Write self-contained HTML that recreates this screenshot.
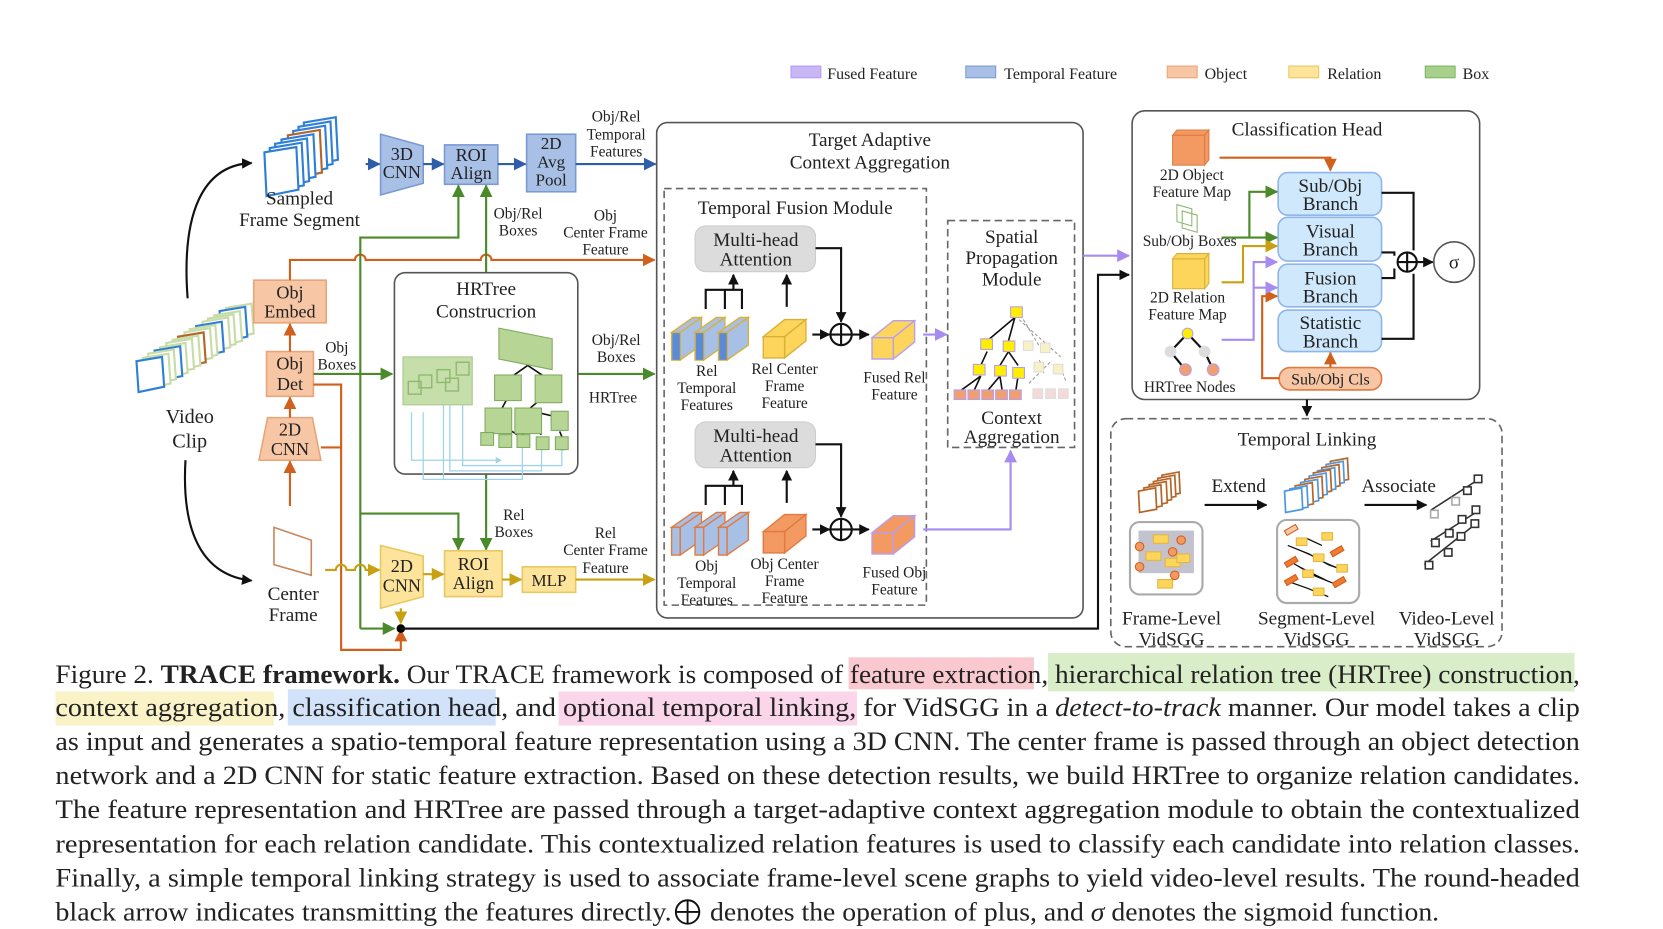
<!DOCTYPE html>
<html><head><meta charset="utf-8"><style>
html,body{margin:0;padding:0;background:#fff;}
svg{display:block;}
text{font-family:"Liberation Serif",serif;fill:#222;}
</style></head><body>
<svg width="1663" height="929" viewBox="0 0 1560 872" preserveAspectRatio="none" xmlns="http://www.w3.org/2000/svg">
<defs>
<marker id="aK" markerWidth="10" markerHeight="10" refX="9" refY="5" orient="auto" markerUnits="userSpaceOnUse"><path d="M0,0 L10,5 L0,10z" fill="#111"/></marker>
<marker id="aB" markerWidth="12" markerHeight="12" refX="11" refY="6" orient="auto" markerUnits="userSpaceOnUse"><path d="M0,0 L12,6 L0,12z" fill="#2f5ea8"/></marker>
<marker id="aO" markerWidth="12" markerHeight="12" refX="11" refY="6" orient="auto" markerUnits="userSpaceOnUse"><path d="M0,0 L12,6 L0,12z" fill="#d0601c"/></marker>
<marker id="aG" markerWidth="12" markerHeight="12" refX="11" refY="6" orient="auto" markerUnits="userSpaceOnUse"><path d="M0,0 L12,6 L0,12z" fill="#4a8a2a"/></marker>
<marker id="aY" markerWidth="12" markerHeight="12" refX="11" refY="6" orient="auto" markerUnits="userSpaceOnUse"><path d="M0,0 L12,6 L0,12z" fill="#c9a011"/></marker>
<marker id="aP" markerWidth="12" markerHeight="12" refX="11" refY="6" orient="auto" markerUnits="userSpaceOnUse"><path d="M0,0 L12,6 L0,12z" fill="#a78bf0"/></marker>
<marker id="aL" markerWidth="6" markerHeight="6" refX="5" refY="3" orient="auto" markerUnits="userSpaceOnUse"><path d="M0,0 L6,3 L0,6z" fill="#9fd3ea"/></marker>
<polygon id="fr" points="0,4 24,0 26,28 2,33" fill="#fff" stroke-width="2"/>
<polygon id="fr2" points="0,5 30,0 32,40 2,46" fill="#fff" stroke-width="2"/>
<polygon id="fr3" points="0,3 16,0 17,20 1,23" fill="#fff" stroke-width="1.6"/>
<g id="cub"><polygon points="0,20 20,4 40,4 20,20"/><polygon points="20,20 40,4 40,24 20,40"/><rect x="0" y="20" width="20" height="20"/></g>
<g id="cubs"><polygon points="0,14 20,0 28,0 8,14"/><polygon points="8,14 28,0 28,26 8,40"/><rect x="0" y="14" width="8" height="26"/></g>
</defs>

<g font-size="15">
<rect x="742" y="62" width="28" height="11" fill="#c9b6f5" stroke="#b39ef0"/><text x="776" y="74">Fused Feature</text>
<rect x="906" y="62" width="28" height="11" fill="#a9c0e6" stroke="#7a9ad3"/><text x="942" y="74">Temporal Feature</text>
<rect x="1095" y="62" width="28" height="11" fill="#f7c6a5" stroke="#e8a57a"/><text x="1130" y="74">Object</text>
<rect x="1209" y="62" width="28" height="11" fill="#fde49a" stroke="#e8c860"/><text x="1245" y="74">Relation</text>
<rect x="1337" y="62" width="28" height="11" fill="#a8d08d" stroke="#7fb565"/><text x="1372" y="74">Box</text>
</g>

<g>
<use href="#fr" x="212" y="285" stroke="#c8dca8"/><use href="#fr" x="206" y="288" stroke="#2e7fd6"/><use href="#fr" x="201" y="292" stroke="#c8dca8"/><use href="#fr" x="195" y="295" stroke="#c8dca8"/><use href="#fr" x="190" y="298" stroke="#c8dca8"/><use href="#fr" x="184" y="302" stroke="#2e7fd6"/><use href="#fr" x="178" y="305" stroke="#c8dca8"/><use href="#fr" x="173" y="308" stroke="#c8dca8"/><use href="#fr" x="167" y="312" stroke="#b5652a"/><use href="#fr" x="162" y="315" stroke="#c8dca8"/><use href="#fr" x="156" y="318" stroke="#c8dca8"/><use href="#fr" x="150" y="322" stroke="#c8dca8"/><use href="#fr" x="145" y="325" stroke="#2e7fd6"/><use href="#fr" x="139" y="328" stroke="#c8dca8"/><use href="#fr" x="134" y="332" stroke="#c8dca8"/><use href="#fr" x="128" y="335" stroke="#2e7fd6"/>
</g>
<text x="178" y="397" font-size="19" text-anchor="middle">Video</text>
<text x="178" y="420" font-size="19" text-anchor="middle">Clip</text>
<path d="M176,280 C170,200 190,155 236,153" fill="none" stroke="#111" stroke-width="2" marker-end="url(#aK)"/>
<path d="M174,432 C170,500 190,540 236,545" fill="none" stroke="#111" stroke-width="2" marker-end="url(#aK)"/>

<use href="#fr2" x="285" y="110" stroke="#2e7fd6"/><use href="#fr2" x="280" y="114" stroke="#2e7fd6"/><use href="#fr2" x="275" y="118" stroke="#2e7fd6"/><use href="#fr2" x="270" y="122" stroke="#b5652a"/><use href="#fr2" x="264" y="126" stroke="#2e7fd6"/><use href="#fr2" x="258" y="130" stroke="#2e7fd6"/><use href="#fr2" x="253" y="134" stroke="#2e7fd6"/><use href="#fr2" x="248" y="138" stroke="#2e7fd6"/>
<text x="281" y="192" font-size="18" text-anchor="middle">Sampled</text>
<text x="281" y="212" font-size="18" text-anchor="middle">Frame Segment</text>

<polygon points="357,126 397,137 397,172 357,183" fill="#a9c0e6" stroke="#7a9ad3" stroke-width="1.5"/>
<text x="377" y="150" font-size="17" text-anchor="middle">3D</text><text x="377" y="167" font-size="17" text-anchor="middle">CNN</text>
<rect x="417" y="136" width="50" height="37" fill="#a9c0e6" stroke="#7a9ad3" stroke-width="1.5"/>
<text x="442" y="151" font-size="17" text-anchor="middle">ROI</text><text x="442" y="168" font-size="17" text-anchor="middle">Align</text>
<rect x="494" y="126" width="46" height="54" fill="#a9c0e6" stroke="#7a9ad3" stroke-width="1.5"/>
<text x="517" y="140" font-size="16" text-anchor="middle">2D</text><text x="517" y="157" font-size="16" text-anchor="middle">Avg</text><text x="517" y="174" font-size="16" text-anchor="middle">Pool</text>
<g stroke="#2f5ea8" stroke-width="2" fill="none">
<line x1="343" y1="154" x2="356" y2="154" marker-end="url(#aB)"/>
<line x1="397" y1="154" x2="416" y2="154" marker-end="url(#aB)"/>
<line x1="467" y1="154" x2="493" y2="154" marker-end="url(#aB)"/>
<line x1="540" y1="154" x2="615" y2="154" marker-end="url(#aB)"/>
</g>
<g font-size="14.5" text-anchor="middle">
<text x="578" y="114">Obj/Rel</text><text x="578" y="131">Temporal</text><text x="578" y="147">Features</text>
<text x="486" y="205">Obj/Rel</text><text x="486" y="221">Boxes</text>
<text x="568" y="207">Obj</text><text x="568" y="223">Center Frame</text><text x="568" y="239">Feature</text>
<text x="578" y="324">Obj/Rel</text><text x="578" y="340">Boxes</text>
<text x="575" y="378">HRTree</text>
<text x="316" y="331">Obj</text><text x="316" y="347">Boxes</text>
<text x="482" y="488">Rel</text><text x="482" y="504">Boxes</text>
<text x="568" y="505">Rel</text><text x="568" y="521">Center Frame</text><text x="568" y="538">Feature</text>
</g>

<rect x="238" y="263" width="68" height="40" fill="#f7c6a5" stroke="#e8a57a" stroke-width="1.5"/>
<text x="272" y="280" font-size="17" text-anchor="middle">Obj</text><text x="272" y="298" font-size="17" text-anchor="middle">Embed</text>
<rect x="250" y="330" width="44" height="42" fill="#f7c6a5" stroke="#e8a57a" stroke-width="1.5"/>
<text x="272" y="347" font-size="17" text-anchor="middle">Obj</text><text x="272" y="366" font-size="17" text-anchor="middle">Det</text>
<polygon points="251,392 293,392 301,432 243,432" fill="#f7c6a5" stroke="#e8a57a" stroke-width="1.5"/>
<text x="272" y="409" font-size="17" text-anchor="middle">2D</text><text x="272" y="427" font-size="17" text-anchor="middle">CNN</text>
<g stroke="#d0601c" stroke-width="2" fill="none">
<line x1="272" y1="475" x2="272" y2="433" marker-end="url(#aO)"/>
<line x1="272" y1="392" x2="272" y2="373" marker-end="url(#aO)"/>
<line x1="272" y1="330" x2="272" y2="304" marker-end="url(#aO)"/>
<path d="M272,263 V244 H333 a5,5 0 0 1 10,0 H451 a5,5 0 0 1 10,0 H614" marker-end="url(#aO)"/>
<path d="M294,361 H320 V610 H376 V591" marker-end="url(#aO)"/>
<line x1="301" y1="420" x2="320" y2="420"/>
</g>

<g stroke="#4a8a2a" stroke-width="2" fill="none">
<line x1="294" y1="351" x2="368" y2="351" marker-end="url(#aG)"/>
<path d="M338,590 V223 H430 V174" marker-end="url(#aG)"/>
<path d="M456,256 V174" marker-end="url(#aG)"/>
<path d="M338,482 H430 V516" marker-end="url(#aG)"/>
<path d="M456,445 V516" marker-end="url(#aG)"/>
<path d="M338,590 H370" marker-end="url(#aG)"/>
<line x1="542" y1="351" x2="614" y2="351" marker-end="url(#aG)"/>
</g>

<rect x="370" y="256" width="172" height="189" rx="10" fill="#fff" stroke="#555" stroke-width="1.5"/>
<text x="456" y="277" font-size="18" text-anchor="middle">HRTree</text>
<text x="456" y="298" font-size="18" text-anchor="middle">Construcrion</text>
<g stroke="#9fd3ea" stroke-width="1.2" fill="none">
<path d="M386,387 V432 H470" marker-end="url(#aL)"/>
<path d="M397,387 V450 H490 V415" marker-end="url(#aL)"/>
<path d="M416,378 V450"/><path d="M422,380 V442 H508 V415" marker-end="url(#aL)"/>
<path d="M434,370 V437 H527 V418" marker-end="url(#aL)"/>
</g>
<rect x="378" y="335" width="65" height="45" fill="#c5deaa" stroke="#a7c98a"/>
<g fill="none" stroke="#8fb870" stroke-width="1.3"><rect x="383" y="358" width="12" height="12"/><rect x="393" y="352" width="12" height="12"/><rect x="410" y="347" width="12" height="12"/><rect x="418" y="355" width="12" height="12"/><rect x="428" y="340" width="12" height="12"/></g>
<g stroke="#111" stroke-width="1.5"><path d="M495,343 L478,355 M495,343 L513,355 M478,370 L470,385 M513,370 L495,385 M495,385 L525,392 M470,398 L458,408 M470,398 L485,408 M495,398 L490,408 M495,398 L508,408 M525,405 L528,412"/></g>
<g fill="#b7d595" stroke="#7fab5f" stroke-width="1">
<polygon points="468,308 518,318 518,347 468,337"/>
<rect x="464" y="352" width="25" height="24"/><rect x="502" y="352" width="25" height="26"/>
<rect x="455" y="383" width="25" height="24"/><rect x="483" y="383" width="25" height="24"/><rect x="517" y="386" width="16" height="18"/>
<rect x="451" y="406" width="12" height="12"/><rect x="468" y="408" width="12" height="12"/><rect x="485" y="408" width="12" height="12"/><rect x="503" y="410" width="12" height="12"/><rect x="521" y="410" width="12" height="12"/>
</g>

<polygon points="257,495 292,507 292,540 257,530" fill="#fff" stroke="#c8865a" stroke-width="1.5"/>
<text x="275" y="563" font-size="18" text-anchor="middle">Center</text>
<text x="275" y="583" font-size="18" text-anchor="middle">Frame</text>
<path d="M305,535 H315 a5,5 0 0 1 10,0 H333 a5,5 0 0 1 10,0 H356" stroke="#c9a011" stroke-width="2" fill="none" marker-end="url(#aY)"/>
<polygon points="357,512 397,522 397,560 357,571" fill="#fde49a" stroke="#e8c860" stroke-width="1.5"/>
<text x="377" y="537" font-size="17" text-anchor="middle">2D</text><text x="377" y="555" font-size="17" text-anchor="middle">CNN</text>
<rect x="417" y="517" width="54" height="43" fill="#fde49a" stroke="#e8c860" stroke-width="1.5"/>
<text x="444" y="535" font-size="17" text-anchor="middle">ROI</text><text x="444" y="553" font-size="17" text-anchor="middle">Align</text>
<rect x="490" y="532" width="50" height="24" fill="#fde49a" stroke="#e8c860" stroke-width="1.5"/>
<text x="515" y="550" font-size="16" text-anchor="middle">MLP</text>
<g stroke="#c9a011" stroke-width="2" fill="none">
<line x1="397" y1="539" x2="416" y2="539" marker-end="url(#aY)"/>
<line x1="471" y1="544" x2="489" y2="544" marker-end="url(#aY)"/>
<line x1="540" y1="544" x2="614" y2="544" marker-end="url(#aY)"/>
<line x1="376" y1="571" x2="376" y2="585" marker-end="url(#aY)"/>
</g>
<circle cx="376" cy="590" r="4" fill="#000"/>
<path d="M376,590 H1030 V258 H1059" stroke="#111" stroke-width="2" fill="none" marker-end="url(#aK)"/>

<rect x="616" y="115" width="400" height="465" rx="10" fill="#fff" stroke="#555" stroke-width="1.5"/>
<path d="M376,590 H1030" stroke="#111" stroke-width="2"/>
<text x="816" y="137" font-size="18" text-anchor="middle">Target Adaptive</text>
<text x="816" y="158" font-size="18" text-anchor="middle">Context Aggregation</text>
<rect x="623" y="177" width="246" height="391" fill="none" stroke="#666" stroke-width="1.5" stroke-dasharray="7,4"/>
<text x="746" y="201" font-size="18" text-anchor="middle">Temporal Fusion Module</text>
<rect x="652" y="212" width="113" height="43" rx="10" fill="#dcdcdc" stroke="#ccc"/>
<text x="709" y="231" font-size="18" text-anchor="middle">Multi-head</text><text x="709" y="249" font-size="18" text-anchor="middle">Attention</text>
<rect x="652" y="396" width="113" height="43" rx="10" fill="#dcdcdc" stroke="#ccc"/>
<text x="709" y="415" font-size="18" text-anchor="middle">Multi-head</text><text x="709" y="433" font-size="18" text-anchor="middle">Attention</text>
<g stroke="#111" stroke-width="2" fill="none">
<path d="M662,290 V272 H696 V290 M680,272 V290 M688,272 V258"/><path d="M688,262 V258" marker-end="url(#aK)"/>
<path d="M738,288 V258" marker-end="url(#aK)"/>
<path d="M765,233 H789 V302" marker-end="url(#aK)"/>
<path d="M762,314 H778" marker-end="url(#aK)"/><path d="M799,314 H815" marker-end="url(#aK)"/>
<circle cx="789" cy="314" r="10"/><path d="M779,314 H799 M789,304 V324"/>
<path d="M662,474 V456 H696 V474 M680,456 V474 M688,456 V442"/><path d="M688,446 V442" marker-end="url(#aK)"/>
<path d="M738,472 V442" marker-end="url(#aK)"/>
<path d="M765,417 H789 V485" marker-end="url(#aK)"/>
<path d="M762,497 H778" marker-end="url(#aK)"/><path d="M799,497 H815" marker-end="url(#aK)"/>
<circle cx="789" cy="497" r="10"/><path d="M779,497 H799 M789,487 V507"/>
</g>
<g fill="#a9c0e6" stroke="#d7b13b" stroke-width="1.3"><use href="#cubs" x="630" y="298"/><use href="#cubs" x="652" y="298"/><use href="#cubs" x="674" y="298"/></g>
<g fill="#5b8ad6" stroke="none"><rect x="630.7" y="312.7" width="7" height="25"/><rect x="652.7" y="312.7" width="7" height="25"/><rect x="674.7" y="312.7" width="7" height="25"/></g>
<g fill="#fdd55a" stroke="#d7b13b" stroke-width="1.3"><use href="#cub" x="716" y="296"/></g>
<g fill="#fdd55a" stroke="#b79ef0" stroke-width="1.3"><use href="#cub" x="818" y="297"/></g>
<g fill="#a9c0e6" stroke="#e07a40" stroke-width="1.3"><use href="#cubs" x="630" y="481"/><use href="#cubs" x="652" y="481"/><use href="#cubs" x="674" y="481"/></g>
<g fill="#f39a62" stroke="#e07a40" stroke-width="1.3"><use href="#cub" x="716" y="479"/></g>
<g fill="#f39a62" stroke="#b79ef0" stroke-width="1.3"><use href="#cub" x="818" y="480"/></g>
<g font-size="14.5" text-anchor="middle">
<text x="663" y="353">Rel</text><text x="663" y="369">Temporal</text><text x="663" y="385">Features</text>
<text x="736" y="351">Rel Center</text><text x="736" y="367">Frame</text><text x="736" y="383">Feature</text>
<text x="839" y="359">Fused Rel</text><text x="839" y="375">Feature</text>
<text x="663" y="536">Obj</text><text x="663" y="552">Temporal</text><text x="663" y="568">Features</text>
<text x="736" y="534">Obj Center</text><text x="736" y="550">Frame</text><text x="736" y="566">Feature</text>
<text x="839" y="542">Fused Obj</text><text x="839" y="558">Feature</text>
</g>
<line x1="866" y1="314" x2="888" y2="314" stroke="#a78bf0" stroke-width="2" marker-end="url(#aP)"/>
<path d="M866,497 H948 V423" stroke="#a78bf0" stroke-width="2" fill="none" marker-end="url(#aP)"/>

<rect x="889" y="207" width="119" height="213" fill="none" stroke="#666" stroke-width="1.5" stroke-dasharray="7,4"/>
<text x="949" y="228" font-size="18" text-anchor="middle">Spatial</text>
<text x="949" y="248" font-size="18" text-anchor="middle">Propagation</text>
<text x="949" y="268" font-size="18" text-anchor="middle">Module</text>
<g stroke="#999" stroke-width="1" stroke-dasharray="3,2"><path d="M956,300 L995,335 M960,300 L975,325 M975,338 L980,352 M995,345 L1000,358 M985,340 L965,360"/></g>
<g fill="#f8f1c6" stroke="#ddd"><rect x="960" y="320" width="9" height="9"/><rect x="976" y="322" width="9" height="9"/><rect x="970" y="340" width="9" height="9"/><rect x="988" y="342" width="9" height="9"/></g>
<g fill="#f5dada" stroke="#ddd"><rect x="969" y="365" width="9" height="9"/><rect x="981" y="365" width="9" height="9"/><rect x="993" y="365" width="9" height="9"/></g>
<g stroke="#111" stroke-width="1.5"><path d="M952,298 L926,320 M952,298 L946,320 M926,330 L920,343 M946,330 L938,343 M946,330 L955,343 M920,353 L902,366 M920,353 L914,366 M938,353 L927,366 M938,353 L940,366 M955,353 L953,366"/></g>
<g fill="#ffee00" stroke="#b79ef0"><rect x="948" y="288" width="11" height="10"/><rect x="920" y="318" width="11" height="10"/><rect x="941" y="320" width="11" height="10"/><rect x="913" y="342" width="11" height="10"/><rect x="933" y="343" width="11" height="10"/><rect x="950" y="345" width="11" height="10"/></g>
<g fill="#f0a070" stroke="#b79ef0"><rect x="895" y="366" width="11" height="9"/><rect x="908" y="366" width="11" height="9"/><rect x="921" y="366" width="11" height="9"/><rect x="934" y="366" width="11" height="9"/><rect x="947" y="366" width="11" height="9"/></g>
<text x="949" y="398" font-size="18" text-anchor="middle">Context</text>
<text x="949" y="416" font-size="18" text-anchor="middle">Aggregation</text>

<rect x="1062" y="104" width="326" height="271" rx="12" fill="#fff" stroke="#555" stroke-width="1.5"/>
<text x="1226" y="127" font-size="18" text-anchor="middle">Classification Head</text>
<g fill="#f39a62" stroke="#e07a40"><polygon points="1100,127 1104,122 1134,122 1130,127"/><polygon points="1130,127 1134,122 1134,150 1130,155"/><rect x="1100" y="127" width="30" height="28"/></g>
<g fill="#fdd55a" stroke="#d7b13b"><polygon points="1100,243 1104,238 1134,238 1130,243"/><polygon points="1130,243 1134,238 1134,266 1130,271"/><rect x="1100" y="243" width="30" height="28"/></g>
<g fill="none" stroke="#8fb870"><polygon points="1104,192 1118,196 1118,212 1104,208"/><polygon points="1109,198 1123,202 1123,218 1109,214"/></g>
<g stroke="#111" stroke-width="2"><path d="M1114,313 L1098,330 M1114,313 L1130,330 M1098,330 L1112,347 M1130,330 L1138,347"/></g>
<circle cx="1114" cy="313" r="5" fill="#ffee00" stroke="#b79ef0"/>
<circle cx="1098" cy="330" r="5.5" fill="#ddd"/><circle cx="1130" cy="330" r="5.5" fill="#ddd"/>
<circle cx="1112" cy="347" r="5.5" fill="#f0a070" stroke="#b79ef0"/><circle cx="1138" cy="347" r="5.5" fill="#f0a070" stroke="#b79ef0"/>
<g font-size="14.5" text-anchor="middle">
<text x="1118" y="169">2D Object</text><text x="1118" y="185">Feature Map</text>
<text x="1116" y="231">Sub/Obj Boxes</text>
<text x="1114" y="284">2D Relation</text><text x="1114" y="300">Feature Map</text>
<text x="1116" y="368">HRTree Nodes</text>
</g>
<g fill="#cfe8fb" stroke="#8fb5ea" stroke-width="1.5">
<rect x="1199" y="162" width="97" height="40" rx="9"/><rect x="1199" y="204" width="97" height="41" rx="9"/><rect x="1199" y="248" width="97" height="40" rx="9"/><rect x="1199" y="291" width="97" height="39" rx="9"/>
</g>
<g font-size="18" text-anchor="middle">
<text x="1248" y="180">Sub/Obj</text><text x="1248" y="197">Branch</text>
<text x="1248" y="223">Visual</text><text x="1248" y="240">Branch</text>
<text x="1248" y="267">Fusion</text><text x="1248" y="284">Branch</text>
<text x="1248" y="309">Statistic</text><text x="1248" y="326">Branch</text>
</g>
<rect x="1200" y="345" width="96" height="21" rx="10" fill="#f7c6a5" stroke="#e07a40" stroke-width="1.5"/>
<text x="1248" y="361" font-size="15" text-anchor="middle">Sub/Obj Cls</text>
<g stroke="#d0601c" stroke-width="2" fill="none">
<path d="M1144,148 H1248 V160" marker-end="url(#aO)"/>
<path d="M1248,345 V331" marker-end="url(#aO)"/>
<path d="M1200,355 H1184 V278 H1198" marker-end="url(#aO)"/>
</g>
<g stroke="#4a8a2a" stroke-width="2" fill="none">
<path d="M1146,223 H1198" marker-end="url(#aG)"/><path d="M1172,223 V180 H1198" marker-end="url(#aG)"/>
</g>
<path d="M1146,265 H1166 V231 H1198" stroke="#c9a011" stroke-width="2" fill="none" marker-end="url(#aY)"/>
<g stroke="#a78bf0" stroke-width="2" fill="none">
<path d="M1146,319 H1176 V246 H1198" marker-end="url(#aP)"/><path d="M1176,270 H1198" marker-end="url(#aP)"/>
</g>
<g stroke="#111" stroke-width="2" fill="none">
<path d="M1296,181 H1326 V235"/><path d="M1296,318 H1326 V257"/>
<path d="M1296,237 H1308 V240"/><path d="M1296,261 H1308 V252"/>
<circle cx="1320" cy="246" r="9"/><path d="M1311,246 H1329 M1320,237 V255"/>
<path d="M1329,246 H1344" marker-end="url(#aK)"/>
<path d="M1226,375 V390" marker-end="url(#aK)"/>
</g>
<circle cx="1364" cy="246" r="19" fill="#fff" stroke="#555" stroke-width="1.5"/>
<text x="1364" y="252" font-size="18" text-anchor="middle">σ</text>
<line x1="1016" y1="240" x2="1059" y2="240" stroke="#a78bf0" stroke-width="2" marker-end="url(#aP)"/>

<rect x="1042" y="393" width="367" height="214" rx="14" fill="none" stroke="#666" stroke-width="1.5" stroke-dasharray="7,4"/>
<text x="1226" y="418" font-size="18" text-anchor="middle">Temporal Linking</text>
<g><use href="#fr3" x="1090" y="443" stroke="#b5652a"/><use href="#fr3" x="1086" y="446" stroke="#b5652a"/><use href="#fr3" x="1082" y="449" stroke="#b5652a"/><use href="#fr3" x="1078" y="452" stroke="#b5652a"/><use href="#fr3" x="1073" y="455" stroke="#b5652a"/><use href="#fr3" x="1068" y="458" stroke="#b5652a"/></g>
<g><use href="#fr3" x="1248" y="430" stroke="#b5652a"/><use href="#fr3" x="1244" y="433" stroke="#4f98e0"/><use href="#fr3" x="1240" y="436" stroke="#b5652a"/><use href="#fr3" x="1236" y="439" stroke="#4f98e0"/><use href="#fr3" x="1232" y="441" stroke="#b5652a"/><use href="#fr3" x="1228" y="444" stroke="#4f98e0"/><use href="#fr3" x="1224" y="447" stroke="#b5652a"/><use href="#fr3" x="1220" y="450" stroke="#4f98e0"/><use href="#fr3" x="1215" y="453" stroke="#b5652a"/><use href="#fr3" x="1210" y="456" stroke="#4f98e0"/><use href="#fr3" x="1205" y="458" stroke="#4f98e0"/></g>
<text x="1162" y="462" font-size="18" text-anchor="middle">Extend</text>
<text x="1312" y="462" font-size="18" text-anchor="middle">Associate</text>
<line x1="1130" y1="474" x2="1188" y2="474" stroke="#111" stroke-width="2" marker-end="url(#aK)"/>
<line x1="1280" y1="474" x2="1338" y2="474" stroke="#111" stroke-width="2" marker-end="url(#aK)"/>
<rect x="1060" y="490" width="68" height="68" rx="9" fill="#fff" stroke="#aaa" stroke-width="2"/>
<g fill="#aab" opacity="0.7"><rect x="1068" y="498" width="52" height="40"/></g>
<g fill="#fdd55a" stroke="#e2b640"><rect x="1082" y="502" width="14" height="8"/><rect x="1075" y="518" width="14" height="8"/><rect x="1093" y="524" width="14" height="8"/><rect x="1086" y="544" width="14" height="8"/><rect x="1104" y="520" width="12" height="8"/></g>
<g fill="#f39a62" stroke="#d0601c"><circle cx="1069" cy="513" r="4"/><circle cx="1108" cy="507" r="4"/><circle cx="1100" cy="518" r="4"/><circle cx="1069" cy="532" r="4"/><circle cx="1102" cy="540" r="4"/></g>
<rect x="1198" y="488" width="77" height="78" rx="9" fill="#fff" stroke="#aaa" stroke-width="2"/>
<g stroke="#111" stroke-width="1.2"><path d="M1208,512 L1228,520 L1246,530 L1260,535 M1212,528 L1232,540 L1252,548 M1225,505 L1240,512 M1206,545 L1226,552 L1246,560"/></g>
<g fill="#fdd55a" stroke="#e2b640"><rect x="1216" y="505" width="10" height="7"/><rect x="1240" y="500" width="10" height="7"/><rect x="1232" y="520" width="10" height="7"/><rect x="1222" y="535" width="10" height="7"/><rect x="1254" y="530" width="10" height="7"/><rect x="1232" y="552" width="10" height="7"/></g>
<g fill="#f07a30" stroke="#d0601c"><rect x="1205" y="525" width="12" height="5" transform="rotate(-30 1211 527)"/><rect x="1248" y="515" width="12" height="5" transform="rotate(-30 1254 517)"/><rect x="1205" y="542" width="12" height="5" transform="rotate(-30 1211 544)"/><rect x="1250" y="544" width="12" height="5" transform="rotate(-30 1256 546)"/><rect x="1205" y="495" width="12" height="5" fill="#f7c6a5" transform="rotate(-30 1211 497)"/></g>
<g stroke="#333" stroke-width="1.5" fill="#fff">
<path d="M1342,479 L1387,450 M1342,508 L1386,480 M1336,530 L1384,492" fill="none"/>
<rect x="1383" y="446" width="7" height="7"/><rect x="1373" y="457" width="7" height="7"/><rect x="1362" y="467" width="7" height="7" stroke="#aaa"/><rect x="1342" y="479" width="7" height="7" stroke="#aaa"/>
<rect x="1381" y="475" width="7" height="7"/><rect x="1368" y="484" width="7" height="7"/><rect x="1356" y="497" width="7" height="7"/><rect x="1343" y="506" width="7" height="7"/>
<rect x="1380" y="488" width="7" height="7"/><rect x="1367" y="500" width="7" height="7"/><rect x="1355" y="515" width="7" height="7"/><rect x="1337" y="527" width="7" height="7"/>
</g>
<g font-size="18" text-anchor="middle">
<text x="1099" y="586">Frame-Level</text><text x="1099" y="606">VidSGG</text>
<text x="1235" y="586">Segment-Level</text><text x="1235" y="606">VidSGG</text>
<text x="1357" y="586">Video-Level</text><text x="1357" y="606">VidSGG</text>
</g>

<rect x="796" y="617" width="174" height="30" fill="#f9c9cf"/>
<rect x="983" y="613" width="494" height="36" fill="#d8edc8"/>
<rect x="52" y="649" width="205" height="32" fill="#fbf3c8"/>
<rect x="270" y="647" width="195" height="34" fill="#d2e2f8"/>
<rect x="524" y="649" width="280" height="32" fill="#fbd5ea"/>
<g font-size="24.5">
<text x="52" y="641" textLength="1430" lengthAdjust="spacingAndGlyphs">Figure 2. <tspan font-weight="bold">TRACE framework.</tspan> Our TRACE framework is composed of feature extraction, hierarchical relation tree (HRTree) construction,</text>
<text x="52" y="672" textLength="1430" lengthAdjust="spacingAndGlyphs">context aggregation, classification head, and optional temporal linking, for VidSGG in a <tspan font-style="italic">detect-to-track</tspan> manner.  Our model takes a clip</text>
<text x="52" y="704" textLength="1430" lengthAdjust="spacingAndGlyphs">as input and generates a spatio-temporal feature representation using a 3D CNN. The center frame is passed through an object detection</text>
<text x="52" y="736" textLength="1430" lengthAdjust="spacingAndGlyphs">network and a 2D CNN for static feature extraction.  Based on these detection results, we build HRTree to organize relation candidates.</text>
<text x="52" y="768" textLength="1430" lengthAdjust="spacingAndGlyphs">The feature representation and HRTree are passed through a target-adaptive context aggregation module to obtain the contextualized</text>
<text x="52" y="800" textLength="1430" lengthAdjust="spacingAndGlyphs">representation for each relation candidate.  This contextualized relation features is used to classify each candidate into relation classes.</text>
<text x="52" y="832" textLength="1430" lengthAdjust="spacingAndGlyphs">Finally, a simple temporal linking strategy is used to associate frame-level scene graphs to yield video-level results.  The round-headed</text>
<text x="52" y="864" textLength="578" lengthAdjust="spacingAndGlyphs">black arrow indicates transmitting the features directly.</text>
<text x="666" y="864" textLength="684" lengthAdjust="spacingAndGlyphs">denotes the operation of plus, and <tspan font-style="italic">σ</tspan> denotes the sigmoid function.</text>
</g>
<g stroke="#111" stroke-width="1.8" fill="none"><circle cx="645" cy="856" r="11"/><path d="M634,856 H656 M645,845 V867"/></g>
</svg>
</body></html>
